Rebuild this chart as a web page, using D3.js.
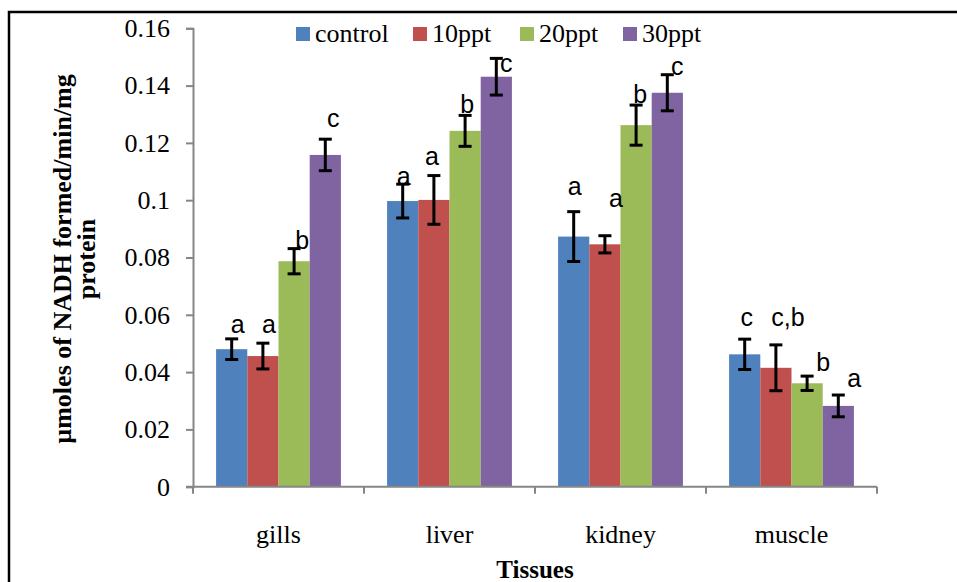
<!DOCTYPE html>
<html lang="en">
<head>
  <meta charset="UTF-8">
  <title>NADH formed by tissue</title>
  <script src="https://d3js.org/d3.v7.min.js"></script>
  <style>
    body { margin: 0; background: #fff; }
    svg { display: block; }
  </style>
</head>
<body>
<svg id="chart" width="957" height="582"></svg>
<script>
// data
const tissues = ["gills", "liver", "kidney", "muscle"];
const groups = ["control", "10ppt", "20ppt", "30ppt"];
const colors = ["#4F81BD", "#C0504D", "#9BBB59", "#8064A2"];

const controlVals = [0.0480, 0.0997, 0.0873, 0.0462];
const ppt10Vals   = [0.0456, 0.1001, 0.0846, 0.0415];
const ppt20Vals   = [0.0787, 0.1242, 0.1262, 0.0361];
const ppt30Vals   = [0.1158, 0.1431, 0.1375, 0.0282];

const controlErr = [0.0036, 0.0059, 0.0087, 0.0053];
const ppt10Err   = [0.0045, 0.0085, 0.0030, 0.0080];
const ppt20Err   = [0.0044, 0.0054, 0.0070, 0.0025];
const ppt30Err   = [0.0055, 0.0064, 0.0063, 0.0038];

const controlSig = ["a", "a", "a", "c"];
const ppt10Sig   = ["a", "a", "a", "c,b"];
const ppt20Sig   = ["b", "b", "b", "b"];
const ppt30Sig   = ["c", "c", "c", "a"];

const yTicks = [0, 0.02, 0.04, 0.06, 0.08, 0.1, 0.12, 0.14, 0.16];
const yTickLabels = ["0", "0.02", "0.04", "0.06", "0.08", "0.1", "0.12", "0.14", "0.16"];

// where each letter sits (value level, px shift right of bar centre)
const labelLevel = [
  [0.0538, 0.1053, 0.1018, 0.0561],
  [0.0538, 0.1123, 0.0977, 0.0561],
  [0.0830, 0.1303, 0.1338, 0.0404],
  [0.1257, 0.1449, 0.1437, 0.0349]
];
const labelShift = [
  [6, 1, 1, 2],
  [6, -2, 11, 12],
  [8, 2, 4, 16],
  [8, 10, 10, 16]
];

const vals = [controlVals, ppt10Vals, ppt20Vals, ppt30Vals];
const errs = [controlErr, ppt10Err, ppt20Err, ppt30Err];
const sigs = [controlSig, ppt10Sig, ppt20Sig, ppt30Sig];

const rows = [];
groups.forEach((g, gi) => {
  tissues.forEach((t, ti) => {
    rows.push({ group: g, gi, tissue: t, ti, value: vals[gi][ti], err: errs[gi][ti], sig: sigs[gi][ti] });
  });
});

const svg = d3.select("#chart");
const serif = "'Liberation Serif', 'Times New Roman', serif";
const sans = "'Liberation Sans', Arial, sans-serif";

// outer frame
svg.append("rect")
  .attr("x", 9).attr("y", 12)
  .attr("width", 980).attr("height", 620)
  .attr("fill", "none")
  .attr("stroke", "#000")
  .attr("stroke-width", 2.5);

const x0 = d3.scaleBand().domain(tissues).range([193, 877]);
const x1 = d3.scaleBand().domain(groups).range([0, x0.bandwidth()]).paddingOuter(0.74).paddingInner(0);
const y = d3.scaleLinear().domain([0, 0.16]).range([486.7, 28.3]);

const axisColor = "#868686";

// y axis
const yAxis = svg.append("g")
  .attr("transform", "translate(193,0)")
  .call(d3.axisLeft(y).tickValues(yTicks).tickSizeInner(7).tickSizeOuter(7).tickPadding(16)
    .tickFormat((d, i) => yTickLabels[i]));
yAxis.selectAll("path, line").attr("stroke", axisColor).attr("stroke-width", 2);
yAxis.selectAll("text")
  .attr("font-family", serif).attr("font-size", 26).attr("fill", "#000");

// bars
svg.append("g").selectAll("rect")
  .data(rows)
  .join("rect")
  .attr("x", d => x0(d.tissue) + x1(d.group))
  .attr("y", d => y(d.value))
  .attr("width", x1.bandwidth())
  .attr("height", d => y(0) - y(d.value))
  .attr("fill", d => colors[d.gi]);

// x axis
const xAxis = svg.append("g")
  .attr("transform", `translate(0,${y(0)})`)
  .call(d3.axisBottom(x0).tickSize(0).tickPadding(38));
xAxis.select(".domain").remove();
xAxis.selectAll("text")
  .attr("font-family", serif).attr("font-size", 26).attr("fill", "#000");
svg.append("line")
  .attr("x1", 186).attr("x2", x0.range()[1])
  .attr("y1", y(0)).attr("y2", y(0))
  .attr("stroke", axisColor).attr("stroke-width", 2);
svg.append("g").selectAll("line")
  .data(tissues.map(t => x0(t)).concat([x0.range()[1]]))
  .join("line")
  .attr("x1", d => d).attr("x2", d => d)
  .attr("y1", y(0)).attr("y2", y(0) + 7)
  .attr("stroke", axisColor).attr("stroke-width", 2);

// error bars
const cx = d => x0(d.tissue) + x1(d.group) + x1.bandwidth() / 2;
const eb = svg.append("g").attr("stroke", "#000").attr("stroke-width", 3);
eb.selectAll("line.v")
  .data(rows).join("line").attr("class", "v")
  .attr("x1", cx).attr("x2", cx)
  .attr("y1", d => y(d.value + d.err)).attr("y2", d => y(d.value - d.err));
eb.selectAll("line.top")
  .data(rows).join("line").attr("class", "top")
  .attr("x1", d => cx(d) - 6.5).attr("x2", d => cx(d) + 6.5)
  .attr("y1", d => y(d.value + d.err)).attr("y2", d => y(d.value + d.err));
eb.selectAll("line.bot")
  .data(rows).join("line").attr("class", "bot")
  .attr("x1", d => cx(d) - 6.5).attr("x2", d => cx(d) + 6.5)
  .attr("y1", d => y(d.value - d.err)).attr("y2", d => y(d.value - d.err));

// significance letters
svg.append("g").selectAll("text")
  .data(rows).join("text")
  .attr("x", d => cx(d) + labelShift[d.gi][d.ti])
  .attr("y", d => y(labelLevel[d.gi][d.ti]))
  .attr("text-anchor", "middle")
  .attr("font-family", sans)
  .attr("font-size", 25)
  .attr("fill", "#000")
  .text(d => d.sig);

// legend
const legendX = [296, 413, 520, 623];
const legend = svg.append("g").selectAll("g")
  .data(groups).join("g")
  .attr("transform", (d, i) => `translate(${legendX[i]},27)`);
legend.append("rect")
  .attr("width", 14).attr("height", 14)
  .attr("fill", (d, i) => colors[i]);
legend.append("text")
  .attr("x", 19).attr("y", 14.5)
  .attr("font-family", serif).attr("font-size", 26).attr("fill", "#000")
  .text(d => d);

// axis titles
svg.append("text")
  .attr("x", 535).attr("y", 578)
  .attr("text-anchor", "middle")
  .attr("font-family", serif).attr("font-size", 25).attr("font-weight", "bold")
  .text("Tissues");

const yTitle = svg.append("text")
  .attr("transform", "translate(71,259) rotate(-90)")
  .attr("text-anchor", "middle")
  .attr("font-family", serif).attr("font-size", 26).attr("font-weight", "bold");
yTitle.append("tspan").attr("x", 0).attr("y", 0).text("µmoles of NADH formed/min/mg");
yTitle.append("tspan").attr("x", 0).attr("y", 24).text("protein");
</script>
</body>
</html>
